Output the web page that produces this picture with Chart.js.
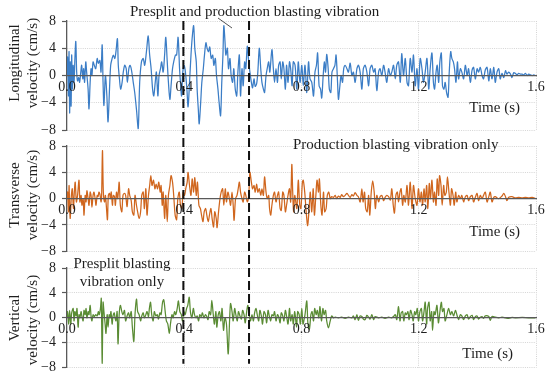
<!DOCTYPE html>
<html>
<head>
<meta charset="utf-8">
<script src="https://cdn.jsdelivr.net/npm/chart.js@4.4.1/dist/chart.umd.min.js"></script>
<style>
  html,body{margin:0;padding:0;background:#fff;}
  #wrap{position:relative;width:550px;height:382px;}
  #wrap canvas{position:absolute;left:0;top:0;}
</style>
</head>
<body>
<div id="wrap">
  <canvas id="c1" width="550" height="382"></canvas>
  <canvas id="c2" width="550" height="382"></canvas>
  <canvas id="c3" width="550" height="382"></canvas>
</div>
<script>
// ---------------- DATA ----------------
const xTicks = [0, 0.4, 0.8, 1.2, 1.6];
const yTicks = [-8, -4, 0, 4, 8];
const dashTimes = [0.397, 0.621];
const panelTitles = ['Longitudinal', 'Transverse', 'Vertical'];

// [time (s), velocity (cm/s)]
const longData = [
[0,0],[0.002,2.7],[0.005,-3],[0.007,3.5],[0.009,-5.5],[0.011,2],[0.014,-4.5],[0.016,3],[0.018,-2],[0.021,1.5],[0.024,-1],[0.027,2.5],[0.030,5],[0.033,0.5],[0.036,-0.8],[0.040,-0.3],[0.043,-1],[0.047,0.5],[0.050,1.5],[0.054,-0.5],[0.057,1],[0.060,-1],[0.064,2],[0.067,0.5],[0.072,-2],[0.075,-4.9],[0.079,-1],[0.082,1],[0.085,0],[0.089,2],[0.093,1.5],[0.098,1],[0.103,2.5],[0.107,1.8],[0.112,2.2],[0.116,0.5],[0.120,4.5],[0.123,-1],[0.126,-4.4],[0.131,0],[0.136,-3],[0.140,-6.8],[0.145,-2],[0.149,1.5],[0.154,2.5],[0.158,3],[0.163,2.5],[0.167,3.5],[0.172,5.4],[0.175,1.5],[0.179,-0.5],[0.183,-2],[0.188,-1],[0.192,0.5],[0.197,1.5],[0.202,1],[0.206,-1],[0.211,1],[0.215,1.5],[0.220,0.8],[0.226,-1],[0.231,-2.5],[0.237,-5],[0.243,-7.8],[0.248,-1],[0.254,2],[0.260,2.5],[0.265,1.5],[0.271,3.5],[0.277,5.8],[0.282,3],[0.287,1],[0.292,-2],[0.296,-3],[0.301,-1],[0.305,0.5],[0.310,-3],[0.314,0],[0.319,1],[0.323,2],[0.328,0.5],[0.333,3],[0.337,5.6],[0.342,2],[0.346,-1],[0.351,-3.5],[0.355,-1.5],[0.360,1],[0.364,2],[0.370,3],[0.374,3],[0.379,5.6],[0.384,1],[0.387,-1],[0.391,-3],[0.395,0.5],[0.400,1.5],[0.404,0.5],[0.409,-2],[0.413,-4.6],[0.418,-1],[0.423,3],[0.427,5.5],[0.432,7.3],[0.436,4],[0.441,2],[0.444,-2],[0.448,-5],[0.451,-7.1],[0.456,-4],[0.460,-1],[0.465,1],[0.469,3],[0.474,4.8],[0.478,4],[0.483,3.5],[0.487,4.2],[0.492,2.5],[0.497,3],[0.501,1.5],[0.506,2.5],[0.510,0],[0.515,-2],[0.519,-4],[0.524,-5.9],[0.528,-1],[0.532,3],[0.535,7.3],[0.539,5],[0.542,3],[0.547,4],[0.551,1],[0.556,2.5],[0.560,0],[0.565,-1],[0.569,1],[0.574,-2],[0.579,-3],[0.583,0.5],[0.588,3],[0.592,-3],[0.597,1],[0.601,-1.5],[0.606,2],[0.610,1],[0.615,4.3],[0.620,2],[0.624,0.5],[0.629,-1],[0.633,-1.8],[0.638,-0.5],[0.642,-1.6],[0.647,-1.2],[0.651,0.5],[0.656,4],[0.661,1],[0.665,-1],[0.670,-2],[0.674,-2.5],[0.679,0],[0.683,1],[0.688,2],[0.692,0.5],[0.699,3.8],[0.704,1],[0.708,-1],[0.713,1],[0.718,-1],[0.722,1.5],[0.727,2],[0.731,-0.5],[0.736,2],[0.740,1],[0.745,-2],[0.749,1.5],[0.754,-1],[0.759,2],[0.763,1],[0.768,-1.5],[0.772,2],[0.778,1.5],
[0.784,-2],[0.789,2],[0.795,-1],[0.801,1.5],[0.806,-1.5],[0.812,1.5],[0.818,-2.5],[0.824,2],[0.829,-0.5],[0.835,-1],[0.841,-3],[0.846,0.5],[0.851,1.5],[0.855,3.3],[0.860,-1.5],[0.865,-2],[0.869,-3.3],[0.874,0],[0.878,2],[0.882,0.5],[0.886,3.1],[0.891,1],[0.895,-2],[0.900,-2.5],[0.904,0.5],[0.909,1],[0.914,1.5],[0.918,3],[0.923,-1],[0.926,-3.5],[0.931,-1.5],[0.935,0],[0.940,-1],[0.944,1],[0.949,1.5],[0.955,1],[0.960,0.5],[0.966,1.8],[0.972,0],[0.977,0.5],[0.983,-1],[0.989,1],[0.994,1.5],[1.000,0.5],[1.006,-2],[1.011,1],[1.017,1.5],[1.023,0.5],[1.029,-1.5],[1.034,1],[1.040,1.5],[1.046,0.5],[1.051,1],[1.057,-2.2],[1.063,0.5],[1.068,1],[1.074,0],[1.080,1.5],[1.085,0.5],[1.091,-1],[1.097,1],[1.103,0],[1.108,0.5],[1.114,1.5],[1.120,-0.5],[1.125,1.5],[1.131,2],[1.137,-1],[1.142,3.2],[1.148,0],[1.154,2.5],[1.160,-1],[1.165,-1.5],[1.171,2.5],[1.177,0.5],[1.182,3],[1.188,-1.5],[1.194,1],[1.199,-2],[1.205,2.5],[1.211,1],[1.216,-1],[1.222,0.5],[1.228,2.5],[1.234,-2],[1.239,1],[1.245,3.3],[1.250,-1],[1.254,-2],[1.259,0.5],[1.263,1.5],[1.268,-1],[1.272,2],[1.277,3.3],[1.281,-1.5],[1.286,-2],[1.290,-1],[1.295,-2.5],[1.300,-3.2],[1.304,0.5],[1.309,3.5],[1.313,2.5],[1.318,2],[1.322,1],[1.327,-1],[1.332,2],[1.336,-0.5],[1.342,1],[1.347,0.5],[1.353,-0.5],[1.359,1.5],[1.365,0],[1.370,1],[1.376,-1],[1.382,0.8],[1.387,1.2],[1.393,-0.5],[1.399,1],[1.404,0.5],[1.410,1.2],[1.416,0],[1.421,-0.5],[1.427,0.8],[1.433,1.2],[1.439,-0.8],[1.444,1],[1.450,-0.5],[1.456,1.2],[1.461,-1],[1.467,0.5],[1.473,1],[1.478,-0.5],[1.484,0.3],[1.490,-0.3],[1.496,0.7],[1.501,0.2],[1.507,0.5],[1.513,0.2],[1.518,-0.3],[1.524,0.4],[1.530,0.3],[1.535,0.1],[1.541,0.3],[1.547,0.2],[1.553,0.2],[1.558,0.1],[1.564,0.3],[1.570,0],[1.575,0.2],[1.581,0.1],[1.587,0],[1.592,0.1],[1.598,0]
];

const transData = [
[0,0],[0.002,1],[0.005,-2],[0.007,2],[0.009,-1],[0.011,-3],[0.015,0.5],[0.018,1.5],[0.022,-1.5],[0.025,1],[0.028,2.5],[0.032,-0.5],[0.036,0.5],[0.041,2.8],[0.044,-0.5],[0.048,0.5],[0.051,-1],[0.055,0],[0.058,-2.5],[0.062,0.5],[0.065,-0.5],[0.068,1.2],[0.072,0],[0.075,-1],[0.079,1],[0.082,0.5],[0.085,-1.3],[0.089,0.5],[0.092,1],[0.096,0],[0.099,-1],[0.103,0.5],[0.106,0.3],[0.109,1],[0.113,0.5],[0.116,-0.5],[0.118,0.2],[0.121,7.3],[0.124,1],[0.128,-0.5],[0.131,0.5],[0.134,-1],[0.138,-3.2],[0.141,0.5],[0.145,0.8],[0.148,0],[0.151,1],[0.155,-1],[0.158,0.5],[0.162,0.3],[0.165,-1],[0.169,1],[0.173,0],[0.178,2.5],[0.182,-1],[0.187,-2],[0.191,0.5],[0.196,0.8],[0.200,0.5],[0.205,-1.2],[0.210,1.5],[0.214,0.5],[0.219,-0.3],[0.223,-2],[0.228,-2.5],[0.232,0.5],[0.237,-1],[0.241,-2],[0.246,-3],[0.251,-2],[0.255,0.5],[0.260,1],[0.264,-1.5],[0.269,1.5],[0.273,-2.5],[0.278,0.5],[0.282,2],[0.286,3.5],[0.290,2],[0.295,2.8],[0.300,1.5],[0.304,2.2],[0.309,1.5],[0.313,2.5],[0.318,1],[0.321,2],[0.325,-1],[0.328,1],[0.333,-3],[0.337,0.5],[0.342,-3.5],[0.346,0.5],[0.351,2],[0.355,3.5],[0.360,2.5],[0.364,0.5],[0.369,-2.5],[0.374,-3.2],[0.378,0],[0.383,1],[0.387,-1],[0.392,-1.5],[0.396,1],[0.401,0.5],[0.405,1.5],[0.410,2.5],[0.413,4],[0.418,2],[0.423,0.5],[0.427,3],[0.432,1],[0.436,3.2],[0.441,0.5],[0.445,2.5],[0.450,-1],[0.455,-1.5],[0.459,-2.5],[0.464,-3.5],[0.468,-2],[0.473,-1.5],[0.477,-2.5],[0.482,-3.5],[0.486,-2.5],[0.491,-1.5],[0.495,-3],[0.500,-4.3],[0.504,-2],[0.509,-3],[0.512,-4.4],[0.517,-2],[0.522,0],[0.526,1],[0.531,1.5],[0.535,-1],[0.540,1.5],[0.544,-0.5],[0.549,1],[0.554,0],[0.558,-1],[0.563,1],[0.567,-1],[0.570,-3.3],[0.575,0],[0.580,0.5],[0.584,1.5],[0.588,2.5],[0.592,1],[0.597,0],[0.601,-0.5],[0.606,1],[0.610,0.5],[0.615,-0.5],[0.620,0.5],[0.624,4],[0.629,2.5],[0.633,1.5],[0.638,2],[0.642,1],[0.647,2.2],[0.651,1],[0.656,1.5],[0.661,0.5],[0.665,1.5],[0.670,0.5],[0.674,3.3],[0.679,1],[0.683,0],[0.688,0.5],[0.691,-1.5],[0.695,-2.5],[0.699,-1],[0.704,0.5],[0.708,1],[0.713,-0.5],[0.718,0.5],[0.722,1],[0.727,-1.5],[0.731,-1.8],[0.736,1],[0.740,0.5],[0.745,-2],[0.749,-1],[0.754,0.5],[0.759,1.5],[0.763,-0.5],[0.767,5.2],[0.770,1],[0.773,-2],[0.777,0.5],
[0.784,-1.5],[0.789,2.8],[0.794,-1],[0.798,-1.5],[0.803,2.5],[0.806,2.8],[0.811,1],[0.816,-2],[0.821,-4.1],[0.826,-1.5],[0.830,1],[0.835,-2],[0.840,1.5],[0.844,-2.5],[0.849,0.5],[0.853,2.8],[0.858,1],[0.861,3],[0.866,-1],[0.870,-2.5],[0.875,1],[0.879,-2],[0.884,-1.5],[0.888,0.5],[0.893,1],[0.898,0],[0.903,0.3],[0.909,0.2],[0.915,0.5],[0.920,0],[0.926,0.4],[0.932,0.2],[0.937,0.6],[0.943,0.3],[0.949,0.5],[0.955,0.8],[0.960,0.5],[0.966,0.2],[0.972,0.6],[0.977,0.4],[0.983,0.9],[0.989,0.5],[0.994,0.3],[1.000,-0.5],[1.006,1.5],[1.010,-0.5],[1.015,1],[1.019,-1.5],[1.024,-2],[1.029,0.5],[1.033,-2.5],[1.038,1],[1.043,2.7],[1.048,1],[1.052,-1.5],[1.057,0.5],[1.063,-0.5],[1.068,0.3],[1.074,0.5],[1.080,-0.3],[1.085,0.2],[1.091,0.5],[1.097,0.3],[1.103,-0.2],[1.108,1.5],[1.113,-1],[1.117,-2.2],[1.122,0.5],[1.127,1],[1.131,-0.5],[1.136,1],[1.140,1.5],[1.145,-1],[1.149,0.5],[1.154,-0.5],[1.160,2],[1.165,-1],[1.171,2.5],[1.177,-1.5],[1.182,2],[1.188,0],[1.194,-1],[1.199,1.5],[1.204,-0.5],[1.209,1],[1.213,-1],[1.218,1.5],[1.222,-0.5],[1.227,2],[1.231,-1.5],[1.236,2.3],[1.240,0],[1.245,2.8],[1.250,-0.5],[1.254,1],[1.259,-1],[1.263,3],[1.268,0.5],[1.271,3.5],[1.276,2],[1.280,-1],[1.285,2],[1.289,0.5],[1.294,1],[1.298,3.3],[1.303,1],[1.308,-1],[1.312,1.5],[1.317,0.5],[1.321,-1],[1.326,1],[1.330,-0.5],[1.336,0.5],[1.342,0],[1.347,0.5],[1.353,-0.5],[1.359,0.3],[1.365,0.5],[1.370,-0.3],[1.376,0.3],[1.382,0.5],[1.387,-0.5],[1.393,0.2],[1.399,0.8],[1.404,-0.3],[1.410,0.5],[1.416,0],[1.421,0.5],[1.427,1],[1.433,-0.5],[1.439,0.3],[1.444,1],[1.450,-0.5],[1.456,0.2],[1.461,0.3],[1.473,0],[1.484,0.4],[1.490,0.8],[1.496,0.3],[1.501,-0.3],[1.507,0.2],[1.518,0.3],[1.530,0.1],[1.541,0.2],[1.553,0.1],[1.564,0.2],[1.575,0.1],[1.587,0.2],[1.598,0]
];

const vertData = [
[0,0],[0.002,1],[0.006,-1],[0.009,1.2],[0.013,-1],[0.016,0.8],[0.021,1.5],[0.024,-0.5],[0.027,1],[0.031,0.3],[0.034,1.5],[0.038,-1.5],[0.041,0.5],[0.044,0],[0.048,1],[0.051,0.2],[0.055,-0.5],[0.058,1.2],[0.062,0.5],[0.065,1.5],[0.068,0],[0.072,1],[0.075,0.5],[0.079,2],[0.082,0.3],[0.085,-0.5],[0.089,0.5],[0.093,0.2],[0.098,0.5],[0.103,0.3],[0.107,1],[0.110,0.5],[0.114,1.5],[0.117,3.1],[0.120,-7.3],[0.123,2.5],[0.126,1],[0.130,-1],[0.133,-2.5],[0.137,0.5],[0.140,-1.5],[0.144,0.5],[0.147,0],[0.150,1],[0.154,-1],[0.157,0.3],[0.161,0.8],[0.164,0],[0.167,-0.5],[0.171,1],[0.174,-4.2],[0.178,0.5],[0.182,2],[0.187,1],[0.191,0.5],[0.196,1.2],[0.200,-0.5],[0.205,0.3],[0.210,0.8],[0.214,0],[0.219,1],[0.223,-1.5],[0.228,-3.8],[0.232,0.5],[0.237,3],[0.241,1],[0.246,0.5],[0.251,-0.5],[0.255,0.3],[0.260,0.8],[0.264,0],[0.269,0.5],[0.273,1],[0.278,0.2],[0.281,1.5],[0.285,2.5],[0.289,0.5],[0.294,-0.5],[0.298,1],[0.303,0.3],[0.308,0.5],[0.312,-0.2],[0.317,0.8],[0.321,0.5],[0.326,2.5],[0.330,2.9],[0.335,1],[0.339,-0.5],[0.344,-1],[0.349,-2.5],[0.353,-1],[0.358,0.5],[0.362,0],[0.367,1],[0.371,0.5],[0.376,1.5],[0.380,2.7],[0.385,1],[0.390,0.5],[0.394,-0.5],[0.399,1],[0.403,0.5],[0.408,1.5],[0.412,2],[0.417,3.3],[0.421,1],[0.426,0],[0.431,1.5],[0.435,0.5],[0.440,0],[0.444,0.3],[0.449,-0.5],[0.453,0.5],[0.458,0.2],[0.462,0.8],[0.467,0],[0.472,0.5],[0.476,0.3],[0.481,-0.3],[0.485,1],[0.490,0.5],[0.494,2.8],[0.499,0.5],[0.503,-1],[0.508,1],[0.511,-1.5],[0.516,0.5],[0.520,1],[0.525,-0.5],[0.529,1.5],[0.534,-2],[0.539,0],[0.544,-1],[0.550,-5.8],[0.555,0],[0.558,2.3],[0.563,1],[0.567,-0.5],[0.572,1.5],[0.576,0.5],[0.581,-0.5],[0.585,1],[0.590,0.3],[0.595,-0.2],[0.599,1.2],[0.604,0.5],[0.608,-0.8],[0.613,1],[0.617,2],[0.622,0.3],[0.626,-0.5],[0.631,0.5],[0.636,-0.5],[0.640,0.8],[0.645,1.5],[0.649,0.5],[0.654,-0.5],[0.658,1.2],[0.663,0.3],[0.667,-1],[0.672,1],[0.677,0.5],[0.681,-0.8],[0.686,1.2],[0.690,0.3],[0.695,-0.5],[0.699,0.5],[0.704,0.3],[0.708,1],[0.713,-0.5],[0.718,0.5],[0.722,0.2],[0.727,-0.8],[0.731,0.8],[0.736,0.3],[0.740,-0.5],[0.745,1.2],[0.749,0.3],[0.754,-1],[0.759,1.5],[0.763,-0.5],[0.768,0.5],[0.772,-1],[0.777,1],
[0.783,-1.5],[0.787,1],[0.792,0.5],[0.796,-1],[0.801,1.5],[0.805,-1],[0.810,0],[0.812,0.5],[0.818,2.7],[0.822,-1],[0.827,-1.8],[0.832,0.5],[0.836,1],[0.841,-0.5],[0.845,1.5],[0.850,0.5],[0.854,1.2],[0.859,0],[0.863,1.8],[0.868,-0.5],[0.873,1.5],[0.877,0.5],[0.882,1.2],[0.886,-0.5],[0.892,-1.6],[0.898,-0.5],[0.903,0.3],[0.909,0],[0.915,0.1],[0.926,0],[0.937,0.1],[0.949,-0.1],[0.960,0.1],[0.972,0],[0.977,0.3],[0.983,-0.3],[0.989,0.5],[0.994,-0.4],[1.000,0.3],[1.006,0.2],[1.011,-0.2],[1.017,-0.3],[1.023,0.4],[1.029,0.1],[1.034,-0.2],[1.040,0.5],[1.046,-0.3],[1.051,0.2],[1.063,0],[1.074,0.1],[1.085,-0.1],[1.097,0.1],[1.108,0],[1.114,0.2],[1.120,0.5],[1.125,-0.3],[1.131,1.8],[1.136,-0.5],[1.140,0.8],[1.145,1],[1.149,-0.5],[1.154,0.8],[1.158,0.5],[1.163,1],[1.167,-0.3],[1.172,1.2],[1.177,0.5],[1.181,-0.5],[1.186,1],[1.190,0.5],[1.195,1.5],[1.199,-0.5],[1.204,1],[1.209,1.5],[1.213,-0.5],[1.218,1],[1.222,2.5],[1.227,-1],[1.230,1.5],[1.235,2.5],[1.239,-0.5],[1.244,1],[1.247,-2],[1.252,1],[1.256,0.5],[1.262,2],[1.267,-0.8],[1.271,0.5],[1.277,2.5],[1.281,1],[1.286,1.5],[1.290,-0.5],[1.296,0.5],[1.302,1.5],[1.308,0.5],[1.313,1],[1.319,0.3],[1.325,1.2],[1.330,0.5],[1.336,-0.3],[1.342,0.5],[1.347,0.3],[1.353,-0.3],[1.359,0.3],[1.365,0.5],[1.370,-0.2],[1.376,0.2],[1.382,0.4],[1.387,-0.3],[1.393,0.2],[1.399,0.3],[1.404,-0.2],[1.410,0.1],[1.416,0.2],[1.421,-0.1],[1.427,0.3],[1.439,0.2],[1.444,-0.4],[1.450,0.2],[1.461,0.1],[1.473,0],[1.484,0.1],[1.496,0],[1.507,-0.1],[1.518,0.05],[1.530,0],[1.553,0.05],[1.575,0],[1.598,0]
];

// ---------------- STYLE / HELPERS ----------------
const FONT = '"Liberation Serif", "Times New Roman", serif';
const AXIS = '#595959';
const GRID = '#d4d4d4';
const TEXT = '#1e1e1e';
Chart.defaults.font.family = FONT;
Chart.defaults.color = TEXT;

function fmtY(v){ return v < 0 ? '\u2212' + Math.abs(v) : String(v); }

function textPlugin(items){
  return {
    id: 'texts',
    afterDraw(chart){
      const ctx = chart.ctx;
      ctx.save();
      ctx.fillStyle = TEXT;
      ctx.textBaseline = 'middle';
      items.forEach(it => {
        ctx.font = (it.size || 15) + 'px ' + FONT;
        ctx.textAlign = it.align || 'left';
        if (it.rotate){
          ctx.save(); ctx.translate(it.x, it.y); ctx.rotate(-Math.PI/2);
          ctx.textAlign = 'center';
          ctx.fillText(it.text, 0, 0); ctx.restore();
        } else {
          ctx.fillText(it.text, it.x, it.y);
        }
      });
      ctx.restore();
    }
  };
}

const charts = [];

function makeChart(id, data, color, pad, texts, extra){
  const plugins = [textPlugin(texts)];
  if (extra) plugins.push(extra);
  const ch = new Chart(document.getElementById(id), {
    type: 'line',
    data: { datasets: [{
      data: data.map(p => ({x: p[0], y: p[1]})),
      borderColor: color, borderWidth: 1.25, pointRadius: 0, tension: 0.3, fill: false
    }]},
    options: {
      responsive: false, animation: false,
      events: [],
      layout: { padding: { left: 0, right: 14, top: pad[0], bottom: pad[1] } },
      plugins: { legend: {display: false}, tooltip: {enabled: false} },
      scales: {
        x: {
          type: 'linear', min: 0, max: 1.6,
          position: { y: 0 },
          afterFit: s => { s.height = 0; },
          afterBuildTicks: s => { s.ticks = xTicks.map(v => ({value: v})); },
          ticks: { callback: v => Number(v).toFixed(1), autoSkip: false, maxRotation: 0,
                   padding: 3, font: {size: 14}, color: TEXT, z: 1 },
          grid: { color: c => (c.tick && c.tick.value === 0) ? 'rgba(0,0,0,0)' : GRID,
                  drawTicks: false, lineWidth: 1 },
          border: { display: true, color: AXIS, width: 1.3, dash: [1, 1.2], z: 1 }
        },
        y: {
          type: 'linear', min: -8, max: 8,
          afterFit: s => { s.width = 67; },
          afterBuildTicks: s => { s.ticks = yTicks.map(v => ({value: v})); },
          ticks: { callback: v => fmtY(v), padding: 6, font: {size: 14}, color: TEXT },
          grid: { color: c => (c.tick && c.tick.value === 0) ? 'rgba(0,0,0,0)' : GRID,
                  tickColor: AXIS, tickLength: 5, tickWidth: 1.2, lineWidth: 1 },
          border: { display: true, color: AXIS, width: 1.3, dash: [1, 1.2] }
        }
      }
    },
    plugins: plugins
  });
  charts.push(ch);
  return ch;
}

const leaderPlugin = {
  id: 'leader',
  afterDraw(chart){
    const ctx = chart.ctx;
    ctx.save();
    ctx.strokeStyle = '#404040'; ctx.lineWidth = 0.9;
    ctx.beginPath(); ctx.moveTo(218, 18); ctx.lineTo(232, 28); ctx.stroke();
    ctx.restore();
  }
};

const dashPlugin = {
  id: 'dashes',
  afterDraw(chart){
    const ctx = chart.ctx;
    const xs = chart.scales.x;
    const top = charts[0].scales.y.getPixelForValue(8);
    const bot = chart.scales.y.getPixelForValue(-7.4);
    ctx.save();
    ctx.strokeStyle = '#111'; ctx.lineWidth = 2; ctx.setLineDash([9, 4]);
    dashTimes.forEach(t => {
      const x = xs.getPixelForValue(t);
      ctx.beginPath(); ctx.moveTo(x, top); ctx.lineTo(x, bot); ctx.stroke();
    });
    ctx.restore();
  }
};

makeChart('c1', longData, '#3B7DC6', [21, 252], [
  {text: 'Presplit and production blasting vibration', x: 130, y: 12},
  {text: 'Time (s)', x: 520, y: 108, align: 'right'},
  {text: panelTitles[0], x: 15, y: 63, rotate: true},
  {text: 'velocity (cm/s)', x: 33, y: 63, rotate: true}
], leaderPlugin);

makeChart('c2', transData, '#D0661E', [146, 130.7], [
  {text: 'Production blasting vibration only', x: 293, y: 145},
  {text: 'Time (s)', x: 520, y: 232, align: 'right'},
  {text: panelTitles[1], x: 15, y: 195, rotate: true},
  {text: 'velocity (cm/s)', x: 33, y: 195, rotate: true}
]);

makeChart('c3', vertData, '#5A8C34', [268, 10.7], [
  {text: 'Presplit blasting', x: 122, y: 264, align: 'center'},
  {text: 'vibration only', x: 122, y: 282, align: 'center'},
  {text: 'Time (s)', x: 513, y: 354, align: 'right'},
  {text: panelTitles[2], x: 15, y: 318, rotate: true},
  {text: 'velocity (cm/s)', x: 33, y: 320, rotate: true}
], dashPlugin);
</script>
</body>
</html>
